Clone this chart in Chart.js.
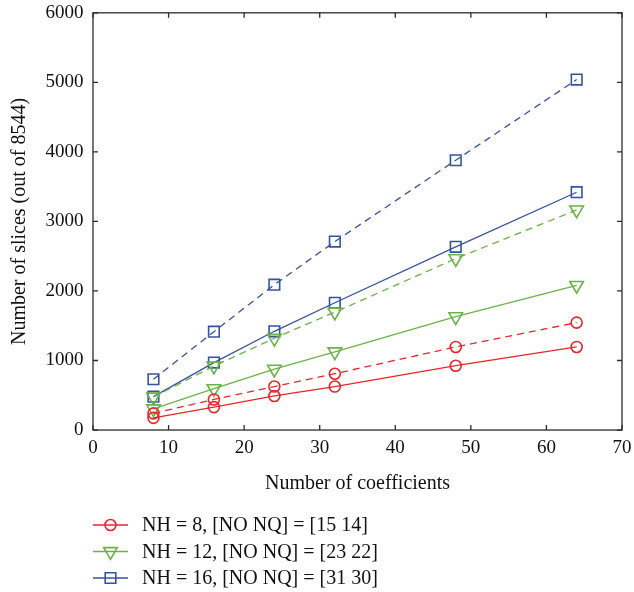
<!DOCTYPE html>
<html>
<head>
<meta charset="utf-8">
<script src="https://cdn.jsdelivr.net/npm/chart.js@4"></script>
<style>
  html, body { margin: 0; padding: 0; background: #fff; }
  #wrap { width: 634px; height: 592px; position: relative; }
</style>
</head>
<body>
<div id="wrap"><canvas id="chart"></canvas></div>
<script>
// Datos
const coefficients = [8, 16, 24, 32, 48, 64];
const nh8Solid = [175, 330, 490, 625, 925, 1195];
const nh8Dashed = [240, 440, 625, 810, 1195, 1545];
const nh12Solid = [305, 595, 875, 1125, 1630, 2080];
const nh12Dashed = [475, 920, 1320, 1695, 2465, 3165];
const nh16Solid = [480, 970, 1420, 1830, 2635, 3420];
const nh16Dashed = [730, 1415, 2090, 2710, 3880, 5040];
const legendLabels = [
    'NH = 8, [NO NQ] = [15 14]',
    'NH = 12, [NO NQ] = [23 22]',
    'NH = 16, [NO NQ] = [31 30]'
];

const RED = '#e6262b';
const GREEN = '#6ab347';
const BLUE = '#3552a5';
const FONT = '"Liberation Serif", "DejaVu Serif", serif';

function toPoints(values) {
    return values.map((v, i) => ({ x: coefficients[i], y: v }));
}

function series(values, color, style, radius, rotation, dashed) {
    return {
        data: toPoints(values),
        borderColor: color,
        backgroundColor: color,
        borderWidth: 1.3,
        borderDash: dashed ? [7, 5] : [],
        pointStyle: style,
        pointRotation: rotation,
        pointRadius: radius,
        pointBorderColor: color,
        pointBackgroundColor: 'rgba(0,0,0,0)',
        pointBorderWidth: 1.6,
        tension: 0,
        fill: false
    };
}

// Marco con marcas hacia adentro
const frameTicks = {
    id: 'frameTicks',
    afterDatasetsDraw(chart) {
        const { ctx, chartArea: a, scales: { x, y } } = chart;
        ctx.save();
        ctx.strokeStyle = '#2b2b2b';
        ctx.lineWidth = 1.3;
        ctx.setLineDash([]);
        ctx.strokeRect(a.left, a.top, a.right - a.left, a.bottom - a.top);
        ctx.beginPath();
        x.ticks.forEach(t => {
            const px = x.getPixelForValue(t.value);
            ctx.moveTo(px, a.bottom); ctx.lineTo(px, a.bottom - 5);
            ctx.moveTo(px, a.top); ctx.lineTo(px, a.top + 5);
        });
        y.ticks.forEach(t => {
            const py = y.getPixelForValue(t.value);
            ctx.moveTo(a.left, py); ctx.lineTo(a.left + 5, py);
            ctx.moveTo(a.right, py); ctx.lineTo(a.right - 5, py);
        });
        ctx.stroke();
        ctx.restore();
    }
};

// Leyenda debajo del gráfico (solo las líneas continuas)
const bottomLegend = {
    id: 'bottomLegend',
    afterDraw(chart) {
        const { ctx } = chart;
        ctx.save();
        ctx.font = '20px ' + FONT;
        ctx.textBaseline = 'middle';
        legendLabels.forEach((txt, i) => {
            const ds = chart.data.datasets[i * 2];
            const yy = 525 + i * 26.5;
            ctx.strokeStyle = ds.borderColor;
            ctx.lineWidth = ds.borderWidth;
            ctx.setLineDash([]);
            ctx.beginPath();
            ctx.moveTo(93, yy);
            ctx.lineTo(128, yy);
            ctx.stroke();
            ctx.fillStyle = 'rgba(0,0,0,0)';
            ctx.lineWidth = ds.pointBorderWidth;
            Chart.helpers.drawPoint(ctx, {
                pointStyle: ds.pointStyle,
                rotation: ds.pointRotation,
                radius: ds.pointRadius,
                borderWidth: ds.pointBorderWidth
            }, 110.5, yy);
            ctx.fillStyle = '#111';
            ctx.fillText(txt, 142, yy + 1);
        });
        ctx.restore();
    }
};

const ctx = document.getElementById('chart').getContext('2d');
const chart = new Chart(ctx, {
    type: 'line',
    data: {
        datasets: [
            series(nh8Solid, RED, 'circle', 5.5, 0, false),
            series(nh8Dashed, RED, 'circle', 5.5, 0, true),
            series(nh12Solid, GREEN, 'triangle', 7.8, 180, false),
            series(nh12Dashed, GREEN, 'triangle', 7.8, 180, true),
            series(nh16Solid, BLUE, 'rect', 7.5, 0, false),
            series(nh16Dashed, BLUE, 'rect', 7.5, 0, true)
        ]
    },
    options: {
        responsive: true,
        maintainAspectRatio: false,
        animation: false,
        layout: { padding: { top: 2, right: 3, bottom: 92, left: 4 } },
        scales: {
            x: {
                type: 'linear',
                min: 0,
                max: 70,
                ticks: { stepSize: 10, color: '#111', font: { family: FONT, size: 19, lineHeight: 1.63 }, padding: 2.5, callback: v => String(v) },
                grid: { display: false, drawTicks: false },
                border: { display: false },
                title: { display: true, text: 'Number of coefficients', color: '#111', font: { family: FONT, size: 20 }, padding: { top: 6, bottom: 4 } }
            },
            y: {
                min: 0,
                max: 6000,
                ticks: { stepSize: 1000, color: '#111', font: { family: FONT, size: 19, lineHeight: 0.35 }, padding: 9.5, callback: v => String(v) },
                grid: { display: false, drawTicks: false },
                border: { display: false },
                title: { display: true, text: 'Number of slices (out of 8544)', color: '#111', font: { family: FONT, size: 20 }, padding: { top: 4, bottom: 4 } }
            }
        },
        plugins: {
            legend: { display: false },
            tooltip: { enabled: false }
        }
    },
    plugins: [frameTicks, bottomLegend]
});
</script>
</body>
</html>
